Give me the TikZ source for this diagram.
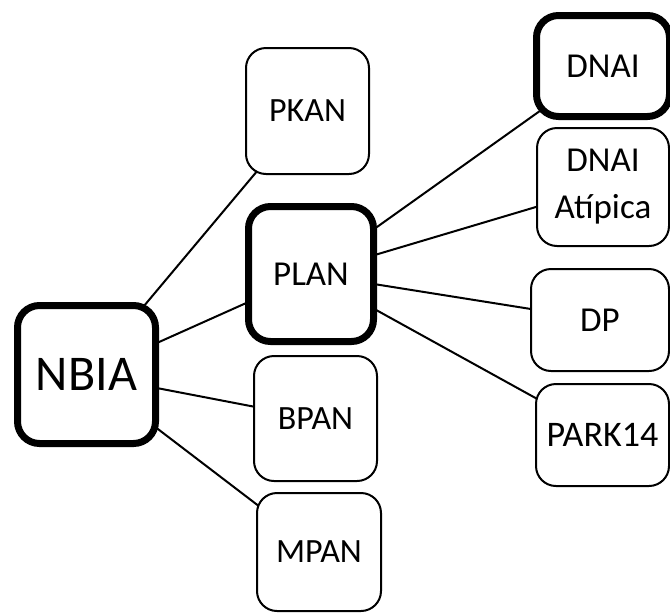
\documentclass[tikz,border=0pt]{standalone}
\usepackage{fontspec}
\setmainfont{Carlito}
\usetikzlibrary{backgrounds}
\begin{document}
\begin{tikzpicture}[x=1pt,y=-1pt,
  box/.style={draw=black, fill=white, rounded corners=20pt, line width=2pt,
    inner sep=0pt, align=center, font=\fontsize{34}{46}\selectfont},
  boldbox/.style={box, line width=7pt, rounded corners=22pt},
  link/.style={draw=black, line width=2pt}]
\useasboundingbox (0,0) rectangle (670,614);
\node[boldbox, minimum width=138pt, minimum height=138pt, font=\fontsize{50}{58}\selectfont] (nbia) at (86.5,374.5) {NBIA};
\node[box, minimum width=123pt, minimum height=126pt] (pkan) at (307.5,111) {PKAN};
\node[boldbox, minimum width=125pt, minimum height=135pt, font=\fontsize{35}{46}\selectfont] (plan) at (311,274) {PLAN};
\node[box, minimum width=123pt, minimum height=125pt] (bpan) at (315.5,418.5) {BPAN};
\node[box, minimum width=124pt, minimum height=118pt] (mpan) at (319,552) {MPAN};
\node[boldbox, minimum width=133pt, minimum height=101pt, font=\fontsize{35}{46}\selectfont] (dnai) at (603,66) {DNAI};
\node[box, minimum width=132pt, minimum height=118pt, font=\fontsize{35}{47}\selectfont] (atip) at (603,187) {DNAI\\Atípica};
\node[box, minimum width=138pt, minimum height=102pt, font=\fontsize{35}{46}\selectfont] (dp) at (600,320) {DP};
\node[box, minimum width=133pt, minimum height=102pt, font=\fontsize{36}{46}\selectfont] (park) at (602.5,435) {PARK14};
\begin{scope}[on background layer]
  \draw[link] (nbia.center) -- (pkan.center);
  \draw[link] (nbia.center) -- (plan.center);
  \draw[link] (nbia.center) -- (bpan.center);
  \draw[link] (nbia.center) -- (mpan.center);
  \draw[link] (plan.center) -- (dnai.center);
  \draw[link] (plan.center) -- (atip.center);
  \draw[link] (plan.center) -- (dp.center);
  \draw[link] (plan.center) -- (park.center);
\end{scope}
\end{tikzpicture}
\end{document}
